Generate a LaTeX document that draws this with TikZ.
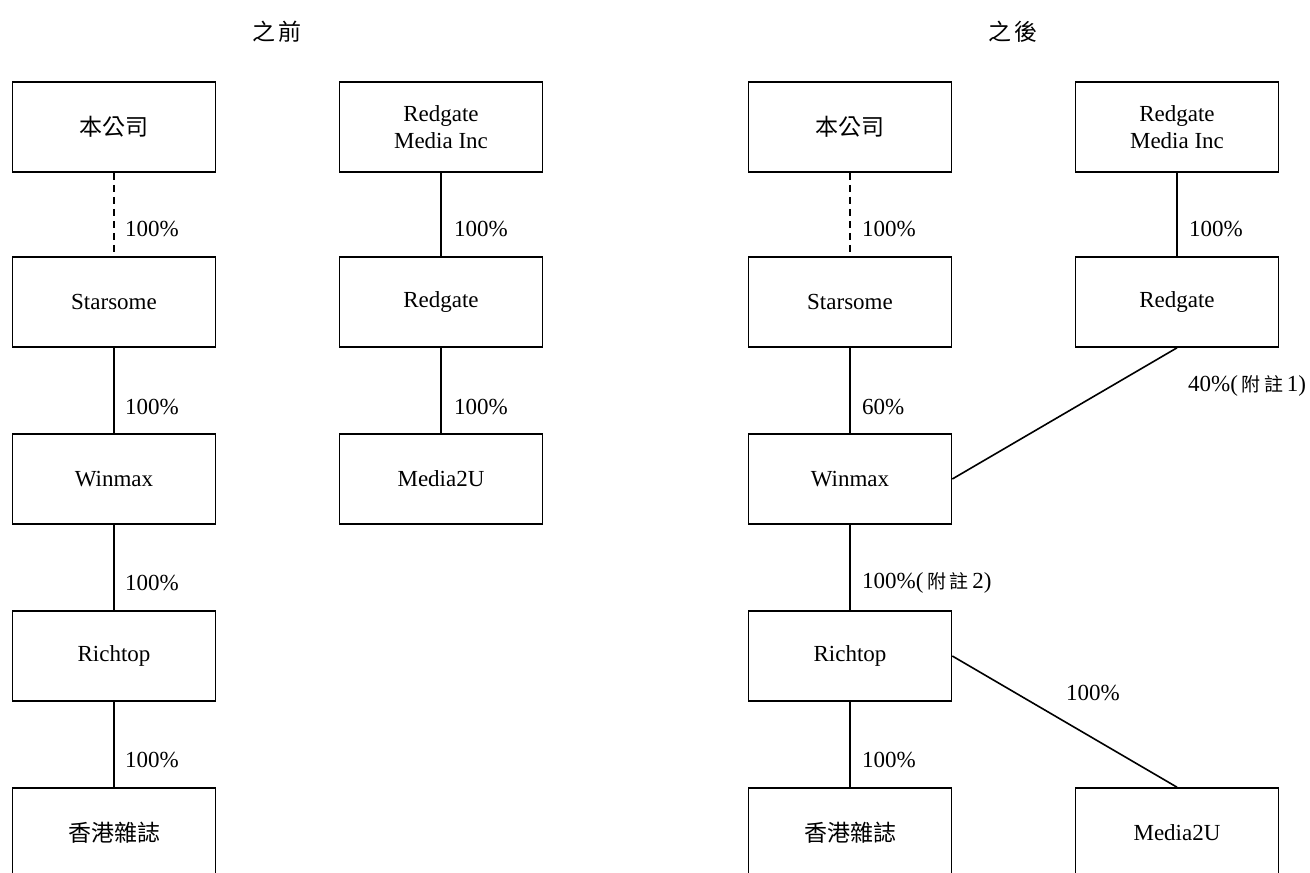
\documentclass[tikz,border=0pt]{standalone}
\usepackage{fontspec}
\setmainfont{Liberation Serif}
\newfontfamily\cjk{Noto Sans CJK TC}
\usepackage{tikz}

\tikzset{
  entity/.style={draw, line width=1.6pt, minimum width=203pt, minimum height=90pt,
    align=center, inner sep=2pt},
  owns/.style={line width=1.6pt},
  pct/.style={anchor=west, inner sep=0pt},
  heading/.style={inner sep=0pt}
}
\newcommand{\note}[1]{(\,{\cjk\fontsize{19}{23}\selectfont 附\,註}\,#1)}

\begin{document}
\begin{tikzpicture}[x=1pt,y=-1pt,font=\fontsize{23}{27}\selectfont]
  \clip (0,0) rectangle (1310,873);

  % Before (left half)
  \node[heading] (hBefore) at (277,32) {\cjk 之\,前};

  \node[entity] (bCo)    at (114,127) {\cjk 本公司};
  \node[entity] (bStar)  at (114,302) {Starsome};
  \node[entity] (bWin)   at (114,479) {Winmax};
  \node[entity] (bRich)  at (114,656) {Richtop};
  \node[entity] (bMag)   at (114,833) {\cjk 香港雜誌};

  \node[entity] (bRgm)   at (441,127) {Redgate\\Media Inc};
  \node[entity] (bRg)    at (441,302) {Redgate};
  \node[entity] (bM2u)   at (441,479) {Media2U};

  \draw[owns,dashed,dash pattern=on 7pt off 5pt] (bCo) -- (bStar);
  \draw[owns] (bStar) -- (bWin);
  \draw[owns] (bWin) -- (bRich);
  \draw[owns] (bRich) -- (bMag);
  \draw[owns] (bRgm) -- (bRg);
  \draw[owns] (bRg) -- (bM2u);

  \node[pct] (bL1) at (125,229) {100\%};
  \node[pct] (bL2) at (125,407) {100\%};
  \node[pct] (bL3) at (125,583) {100\%};
  \node[pct] (bL4) at (125,760) {100\%};
  \node[pct] (bL5) at (454,229) {100\%};
  \node[pct] (bL6) at (454,407) {100\%};

  % After (right half)
  \node[heading] (hAfter) at (1013,32) {\cjk 之\,後};

  \node[entity] (aCo)    at (850,127) {\cjk 本公司};
  \node[entity] (aStar)  at (850,302) {Starsome};
  \node[entity] (aWin)   at (850,479) {Winmax};
  \node[entity] (aRich)  at (850,656) {Richtop};
  \node[entity] (aMag)   at (850,833) {\cjk 香港雜誌};

  \node[entity] (aRgm)   at (1177,127) {Redgate\\Media Inc};
  \node[entity] (aRg)    at (1177,302) {Redgate};
  \node[entity] (aM2u)   at (1177,833) {Media2U};

  \draw[owns,dashed,dash pattern=on 7pt off 5pt] (aCo) -- (aStar);
  \draw[owns] (aStar) -- (aWin);
  \draw[owns] (aWin) -- (aRich);
  \draw[owns] (aRich) -- (aMag);
  \draw[owns] (aRgm) -- (aRg);
  \draw[owns] (aRg.south) -- (aWin.east);
  \draw[owns] (aRich.east) -- (aM2u.north);

  \node[pct] (aL1) at (862,229) {100\%};
  \node[pct] (aL2) at (862,407) {60\%};
  \node[pct] (aL3) at (862,583) {100\%\note{2}};
  \node[pct] (aL4) at (862,760) {100\%};
  \node[pct] (aL5) at (1189,229) {100\%};
  \node[pct] (aL6) at (1188,386) {40\%\note{1}};
  \node[pct] (aL7) at (1066,693) {100\%};
\end{tikzpicture}
\end{document}
